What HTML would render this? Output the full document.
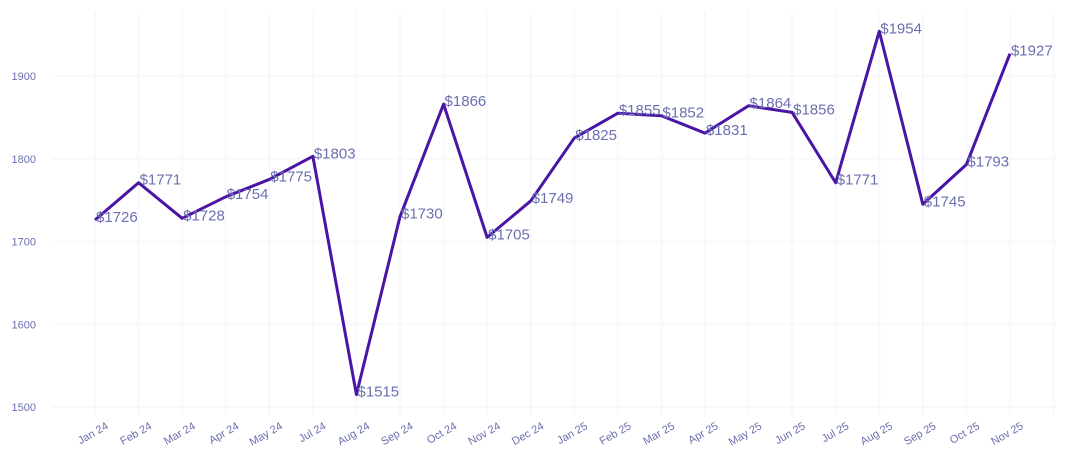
<!DOCTYPE html>
<html><head><meta charset="utf-8"><style>
html,body{margin:0;padding:0;background:#fff;}
svg{display:block;font-family:"Liberation Sans",sans-serif;}
</style></head><body>
<svg width="1070" height="465" viewBox="0 0 1070 465" xmlns="http://www.w3.org/2000/svg">
<g id="grid" stroke="#f8f8fe" stroke-width="2"></g>
<g id="yl" fill="#6b6fb0" font-size="11" text-anchor="end"></g>
<g id="xl" fill="#6b6fb0" font-size="11" text-anchor="end"></g>
<polyline id="ln" fill="none" stroke="#4a14a6" stroke-width="3" stroke-linejoin="round"/>
<g id="lb" fill="#6b6fb0" font-size="15"></g>
</svg>
<script>
const vals=[1726,1771,1728,1754,1775,1803,1515,1730,1866,1705,1749,1825,1855,1852,1831,1864,1856,1771,1954,1745,1793,1927];
const names=["Jan 24","Feb 24","Mar 24","Apr 24","May 24","Jul 24","Aug 24","Sep 24","Oct 24","Nov 24","Dec 24","Jan 25","Feb 25","Mar 25","Apr 25","May 25","Jun 25","Jul 25","Aug 25","Sep 25","Oct 25","Nov 25"];
const ns="http://www.w3.org/2000/svg";
const X=i=>95+i*43.57, Y=v=>407-(v-1500)*0.8275;
const g=document.getElementById('grid'),yl=document.getElementById('yl'),xl=document.getElementById('xl'),lb=document.getElementById('lb');
function el(t,a,p,txt){const e=document.createElementNS(ns,t);for(const k in a)e.setAttribute(k,a[k]);if(txt)e.textContent=txt;p.appendChild(e);return e;}
for(let i=0;i<=22;i++)el('line',{x1:X(i),x2:X(i),y1:12,y2:415},g);
for(let v=1500;v<=1900;v+=100){el('line',{x1:52,x2:1056,y1:Y(v),y2:Y(v)},g);el('text',{x:36,y:Y(v)+4},yl,String(v));}
names.forEach((n,i)=>{el('text',{x:X(i)+14,y:428,transform:`rotate(-30 ${X(i)+14} 428)`},xl,n);});
document.getElementById('ln').setAttribute('points',vals.map((v,i)=>X(i)+','+Y(v)).join(' '));
vals.forEach((v,i)=>el('text',{x:X(i)+1,y:Y(v)+2},lb,'$'+v));
</script>
</body></html>
